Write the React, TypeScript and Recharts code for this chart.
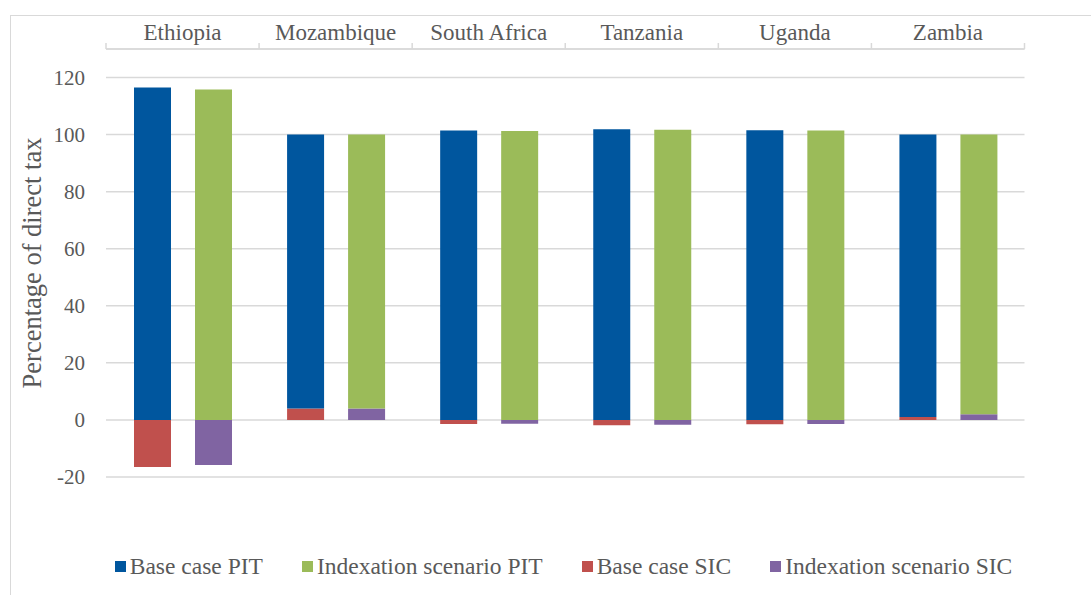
import React from 'react';
import { BarChart, Bar, XAxis, YAxis, CartesianGrid, Legend } from 'recharts';

const categories = ['Ethiopia', 'Mozambique', 'South Africa', 'Tanzania', 'Uganda', 'Zambia'];
const basePIT = [116.5, 96, 101.4, 101.9, 101.5, 99];
const indexPIT = [115.8, 96, 101.3, 101.7, 101.4, 98];
const baseSIC = [-16.5, 4, -1.4, -1.9, -1.5, 1];
const indexSIC = [-15.8, 4, -1.3, -1.7, -1.4, 2];
const yTicks = [-20, 0, 20, 40, 60, 80, 100, 120];
const yDomain = [-20, 130];
const seriesNames = ['Base case PIT', 'Indexation scenario PIT', 'Base case SIC', 'Indexation scenario SIC'];
const seriesColors = ['#00569E', '#9BBB59', '#C0504D', '#8064A2'];

const data = categories.map((name, i) => ({
  name,
  basePIT: basePIT[i],
  indexPIT: indexPIT[i],
  baseSIC: baseSIC[i],
  indexSIC: indexSIC[i],
}));

const FONT = '"Liberation Serif", "Times New Roman", serif';
const TEXT = '#595959';
const GRID = '#D9D9D9';

const CHART_W = 1080;
const CHART_H = 579;
const MARGIN = { top: 3, right: 66.5, bottom: 118, left: 0 };
const YAXIS_W = 95;
const XAXIS_H = 30;
const PLOT_W = CHART_W - MARGIN.left - MARGIN.right - YAXIS_W;
const BAND = PLOT_W / categories.length;
const PLOT_TOP = MARGIN.top + XAXIS_H;
const PLOT_BOTTOM = CHART_H - MARGIN.bottom;

const CategoryTick = (props: any) => {
  const { x, y, payload, index } = props;
  const half = BAND / 2;
  return (
    <g>
      <line x1={x - half} x2={x - half} y1={y} y2={y - 6} stroke={GRID} strokeWidth={1.5} />
      {index === categories.length - 1 && (
        <line x1={x + half} x2={x + half} y1={y} y2={y - 6} stroke={GRID} strokeWidth={1.5} />
      )}
      <text x={x} y={y - 9} textAnchor="middle" fill={TEXT} fontSize={23} fontFamily={FONT}>
        {payload.value}
      </text>
    </g>
  );
};

const YLabel = () => {
  const lx = 21;
  const ly = (PLOT_TOP + PLOT_BOTTOM) / 2;
  return (
    <text
      x={lx}
      y={ly}
      transform={`rotate(-90, ${lx}, ${ly})`}
      textAnchor="middle"
      dominantBaseline="central"
      fill={TEXT}
      fontSize={26.5}
      fontFamily={FONT}
    >
      Percentage of direct tax
    </text>
  );
};

const renderLegend = () => (
  <div
    style={{
      display: 'flex',
      justifyContent: 'center',
      alignItems: 'center',
      fontFamily: FONT,
      fontSize: 23.5,
      lineHeight: '26px',
      color: TEXT,
      whiteSpace: 'nowrap',
    }}
  >
    {seriesNames.map((name, i) => (
      <div
        key={name}
        style={{ display: 'flex', alignItems: 'center', marginRight: i < seriesNames.length - 1 ? 39 : 0 }}
      >
        <span style={{ display: 'inline-block', width: 11, height: 11, background: seriesColors[i], marginRight: 4 }} />
        <span>{name}</span>
      </div>
    ))}
  </div>
);

export default function App() {
  return (
    <div
      style={{
        position: 'absolute',
        left: 10,
        top: 15,
        width: 1081,
        height: 580,
        boxSizing: 'border-box',
        borderLeft: `1px solid ${GRID}`,
        borderTop: `1px solid ${GRID}`,
        overflow: 'hidden',
        background: '#fff',
        fontFamily: FONT,
      }}
    >
      <BarChart
        width={CHART_W}
        height={CHART_H}
        data={data}
        margin={MARGIN}
        stackOffset="sign"
        barSize={37}
        barGap={24}
        style={{ fontFamily: FONT }}
      >
        <CartesianGrid horizontal vertical={false} stroke={GRID} strokeWidth={1.5} />
        <XAxis
          dataKey="name"
          orientation="top"
          height={XAXIS_H}
          axisLine={{ stroke: GRID, strokeWidth: 1.5 }}
          tickLine={false}
          tickSize={0}
          tickMargin={0}
          interval={0}
          tick={<CategoryTick />}
        />
        <YAxis
          width={YAXIS_W}
          domain={yDomain}
          ticks={yTicks}
          allowDataOverflow
          axisLine={false}
          tickLine={false}
          tickSize={0}
          tickMargin={21}
          tick={{ fill: TEXT, fontSize: 21, fontFamily: FONT }}
          label={{ content: () => <YLabel /> }}
        />
        <Legend
          layout="horizontal"
          verticalAlign="middle"
          align="center"
          wrapperStyle={{ top: 537, left: 22.5, width: 1060, height: 26 }}
          content={renderLegend}
        />
        <Bar dataKey="baseSIC" name={seriesNames[2]} stackId="base" fill={seriesColors[2]} isAnimationActive={false} />
        <Bar dataKey="indexSIC" name={seriesNames[3]} stackId="index" fill={seriesColors[3]} isAnimationActive={false} />
        <Bar dataKey="basePIT" name={seriesNames[0]} stackId="base" fill={seriesColors[0]} isAnimationActive={false} />
        <Bar dataKey="indexPIT" name={seriesNames[1]} stackId="index" fill={seriesColors[1]} isAnimationActive={false} />
      </BarChart>
    </div>
  );
}
